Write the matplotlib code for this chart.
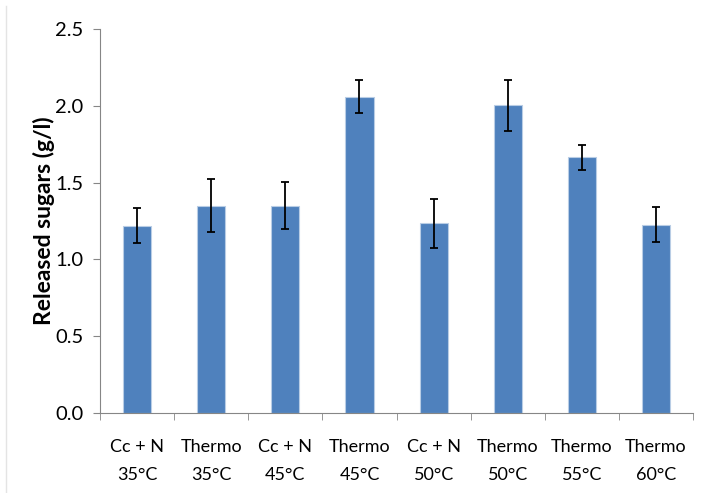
import matplotlib
matplotlib.use('Agg')
import matplotlib.pyplot as plt
from matplotlib.lines import Line2D

labels = ['Cc + N\n35°C', 'Thermo\n35°C', 'Cc + N\n45°C', 'Thermo\n45°C',
          'Cc + N\n50°C', 'Thermo\n50°C', 'Thermo\n55°C', 'Thermo\n60°C']
sugars = [1.22, 1.35, 1.35, 2.06, 1.235, 2.005, 1.665, 1.225]
errors = [0.115, 0.175, 0.152, 0.108, 0.16, 0.165, 0.08, 0.113]

plt.rcParams['font.family'] = ['Lato', 'DejaVu Sans']

fig = plt.figure(figsize=(7.01, 4.93), dpi=100)
ax = fig.add_axes([0.1427, 0.163, 0.846, 0.7775])

x = range(len(labels))
ax.bar(x, sugars, width=0.38, color='#4F81BD', edgecolor='#B9CDE5', linewidth=0.8,
       yerr=errors, capsize=3,
       error_kw=dict(ecolor='black', elinewidth=1.3, capthick=1.3))

ax.set_ylim(0, 2.5)
ax.set_xlim(-0.5, len(labels) - 0.5)
ax.set_yticks([0, 0.5, 1.0, 1.5, 2.0, 2.5])
ax.set_yticklabels(['0.0', '0.5', '1.0', '1.5', '2.0', '2.5'], fontsize=14.5)
ax.set_xticks(list(x))
ax.set_xticklabels(labels, fontsize=13, linespacing=1.95)
ax.tick_params(axis='x', length=0, pad=19)
ax.tick_params(axis='y', length=5, color='#868686', pad=7)
# category separator ticks below the x axis
ax.set_xticks([i - 0.5 for i in range(len(labels) + 1)], minor=True)
ax.tick_params(axis='x', which='minor', length=5, color='#868686')

for side in ('top', 'right'):
    ax.spines[side].set_visible(False)
ax.spines['left'].set_color('#868686')
ax.spines['bottom'].set_color('#868686')

ax.set_ylabel('Released sugars (g/l)', fontsize=16.5, fontweight='bold', labelpad=0)

# faint border at the left edge of the chart area
fig.add_artist(Line2D([6 / 701, 6 / 701], [0, 1 - 6 / 493], color='#E4E4E4', lw=1))

fig.savefig('out.png', dpi=100)
